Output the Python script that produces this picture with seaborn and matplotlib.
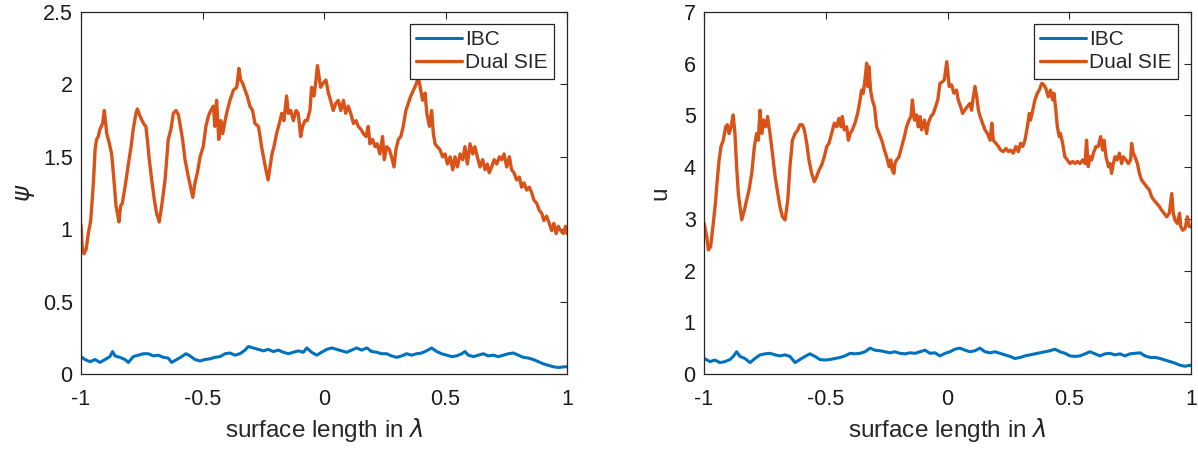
import numpy as np
import pandas as pd
import matplotlib
matplotlib.use("Agg")
import matplotlib.pyplot as plt
import seaborn as sns

# ---------------- data: left panel (psi) ----------------
psi_dual_x = [-1.000, -0.995, -0.988, -0.979, -0.970, -0.960, -0.949, -0.942, -0.936, -0.929, -0.922, -0.911,
              -0.904, -0.894, -0.883, -0.874, -0.867, -0.860, -0.856, -0.850, -0.844, -0.837, -0.830, -0.819,
              -0.805, -0.794, -0.785, -0.774, -0.768, -0.757, -0.743, -0.733, -0.727, -0.719, -0.709, -0.698,
              -0.689, -0.678, -0.668, -0.654, -0.641, -0.630, -0.620, -0.609, -0.599, -0.593, -0.582, -0.572,
              -0.558, -0.549, -0.540, -0.531, -0.521, -0.510, -0.497, -0.486, -0.476, -0.466, -0.455, -0.449,
              -0.442, -0.433, -0.425, -0.417, -0.407, -0.398, -0.387, -0.373, -0.359, -0.350, -0.343, -0.335,
              -0.325, -0.316, -0.305, -0.294, -0.284, -0.270, -0.263, -0.257, -0.247, -0.239, -0.230, -0.222,
              -0.214, -0.206, -0.195, -0.184, -0.174, -0.165, -0.154, -0.147, -0.137, -0.126, -0.115, -0.106,
              -0.096, -0.088, -0.078, -0.069, -0.058, -0.051, -0.041, -0.033, -0.027, -0.014, -0.003, 0.008,
              0.018, 0.027, 0.038, 0.049, 0.059, 0.069, 0.080, 0.089, 0.100, 0.110, 0.121, 0.132,
              0.141, 0.152, 0.162, 0.173, 0.182, 0.189, 0.200, 0.210, 0.219, 0.230, 0.241, 0.248,
              0.258, 0.269, 0.278, 0.288, 0.296, 0.306, 0.316, 0.326, 0.337, 0.347, 0.357, 0.368,
              0.379, 0.388, 0.398, 0.406, 0.416, 0.423, 0.434, 0.443, 0.450, 0.457, 0.466, 0.477,
              0.488, 0.498, 0.508, 0.519, 0.530, 0.539, 0.549, 0.560, 0.571, 0.580, 0.590, 0.601,
              0.612, 0.621, 0.631, 0.642, 0.653, 0.663, 0.672, 0.680, 0.690, 0.700, 0.711, 0.722,
              0.731, 0.741, 0.752, 0.763, 0.772, 0.782, 0.793, 0.804, 0.813, 0.823, 0.834, 0.845,
              0.855, 0.864, 0.875, 0.886, 0.896, 0.905, 0.916, 0.927, 0.937, 0.946, 0.955, 0.964,
              0.974, 0.985, 0.994, 1.000]
psi_dual_y = [1.03, 0.88, 0.83, 0.86, 0.97, 1.06, 1.32, 1.55, 1.62, 1.64, 1.69, 1.73,
              1.82, 1.66, 1.59, 1.52, 1.39, 1.25, 1.16, 1.11, 1.05, 1.16, 1.18, 1.29,
              1.45, 1.57, 1.69, 1.80, 1.83, 1.78, 1.73, 1.71, 1.62, 1.48, 1.34, 1.20,
              1.11, 1.05, 1.16, 1.34, 1.62, 1.69, 1.80, 1.82, 1.79, 1.73, 1.62, 1.48,
              1.36, 1.29, 1.22, 1.32, 1.39, 1.50, 1.57, 1.71, 1.78, 1.82, 1.85, 1.71,
              1.89, 1.62, 1.75, 1.66, 1.75, 1.82, 1.89, 1.96, 1.98, 2.11, 2.03, 2.01,
              1.96, 1.92, 1.85, 1.82, 1.73, 1.71, 1.64, 1.57, 1.48, 1.41, 1.34, 1.43,
              1.52, 1.57, 1.66, 1.73, 1.80, 1.75, 1.92, 1.80, 1.82, 1.75, 1.82, 1.80,
              1.64, 1.71, 1.75, 1.75, 1.82, 1.98, 1.92, 2.03, 2.13, 1.98, 2.01, 2.03,
              1.94, 1.89, 1.82, 1.87, 1.89, 1.82, 1.89, 1.80, 1.85, 1.80, 1.73, 1.75,
              1.71, 1.69, 1.66, 1.64, 1.71, 1.59, 1.62, 1.57, 1.59, 1.52, 1.64, 1.48,
              1.57, 1.55, 1.50, 1.43, 1.55, 1.62, 1.64, 1.71, 1.82, 1.87, 1.92, 1.96,
              2.00, 2.05, 1.96, 1.89, 1.94, 1.80, 1.71, 1.82, 1.66, 1.59, 1.57, 1.55,
              1.50, 1.52, 1.45, 1.50, 1.41, 1.50, 1.43, 1.52, 1.48, 1.57, 1.45, 1.59,
              1.52, 1.57, 1.50, 1.43, 1.48, 1.41, 1.45, 1.39, 1.43, 1.48, 1.45, 1.50,
              1.48, 1.52, 1.43, 1.50, 1.41, 1.39, 1.34, 1.36, 1.29, 1.32, 1.27, 1.29,
              1.25, 1.20, 1.18, 1.13, 1.11, 1.06, 1.09, 1.04, 0.99, 1.04, 0.97, 1.02,
              0.99, 0.97, 1.02, 0.97]

psi_ibc_x = [-1.000, -0.984, -0.963, -0.942, -0.922, -0.901, -0.881, -0.870, -0.860, -0.840, -0.819, -0.805,
             -0.785, -0.764, -0.743, -0.723, -0.702, -0.682, -0.661, -0.641, -0.627, -0.606, -0.586, -0.568,
             -0.551, -0.531, -0.510, -0.490, -0.469, -0.449, -0.428, -0.407, -0.387, -0.366, -0.346, -0.325,
             -0.311, -0.291, -0.270, -0.250, -0.229, -0.209, -0.188, -0.167, -0.147, -0.126, -0.106, -0.085,
             -0.071, -0.051, -0.030, -0.010, 0.011, 0.032, 0.052, 0.073, 0.093, 0.114, 0.134, 0.155,
             0.176, 0.196, 0.217, 0.237, 0.258, 0.278, 0.299, 0.320, 0.340, 0.361, 0.381, 0.402,
             0.422, 0.443, 0.464, 0.484, 0.505, 0.525, 0.546, 0.567, 0.580, 0.594, 0.615, 0.635,
             0.656, 0.676, 0.697, 0.717, 0.738, 0.759, 0.779, 0.800, 0.820, 0.841, 0.861, 0.882,
             0.903, 0.923, 0.944, 0.964, 0.992, 1.000]
psi_ibc_y = [0.12, 0.10, 0.085, 0.10, 0.08, 0.10, 0.12, 0.155, 0.125, 0.115, 0.10, 0.08,
             0.12, 0.13, 0.14, 0.14, 0.125, 0.13, 0.115, 0.11, 0.08, 0.10, 0.12, 0.14,
             0.125, 0.10, 0.09, 0.10, 0.105, 0.115, 0.12, 0.14, 0.145, 0.13, 0.14, 0.165,
             0.19, 0.18, 0.17, 0.16, 0.17, 0.155, 0.165, 0.15, 0.14, 0.15, 0.16, 0.15,
             0.18, 0.15, 0.13, 0.15, 0.17, 0.18, 0.17, 0.16, 0.15, 0.165, 0.18, 0.165,
             0.18, 0.155, 0.15, 0.14, 0.14, 0.125, 0.115, 0.125, 0.14, 0.13, 0.14, 0.145,
             0.16, 0.18, 0.155, 0.14, 0.13, 0.12, 0.125, 0.14, 0.155, 0.13, 0.12, 0.13,
             0.14, 0.125, 0.13, 0.12, 0.13, 0.14, 0.145, 0.13, 0.115, 0.11, 0.10, 0.085,
             0.07, 0.06, 0.05, 0.045, 0.05, 0.05]

# ---------------- data: right panel (u) ----------------
u_dual_x = [-0.999, -0.989, -0.982, -0.973, -0.962, -0.952, -0.948, -0.938, -0.930, -0.921, -0.911, -0.904,
            -0.897, -0.889, -0.880, -0.873, -0.866, -0.859, -0.852, -0.845, -0.834, -0.825, -0.815, -0.804,
            -0.793, -0.784, -0.777, -0.770, -0.763, -0.756, -0.747, -0.739, -0.729, -0.719, -0.708, -0.697,
            -0.688, -0.678, -0.667, -0.656, -0.647, -0.637, -0.626, -0.615, -0.606, -0.596, -0.588, -0.578,
            -0.569, -0.558, -0.547, -0.537, -0.528, -0.517, -0.506, -0.496, -0.487, -0.476, -0.465, -0.455,
            -0.446, -0.437, -0.432, -0.424, -0.414, -0.407, -0.400, -0.391, -0.380, -0.369, -0.359, -0.353,
            -0.346, -0.339, -0.332, -0.328, -0.322, -0.316, -0.309, -0.300, -0.291, -0.281, -0.270, -0.259,
            -0.250, -0.240, -0.233, -0.227, -0.220, -0.216, -0.209, -0.199, -0.188, -0.177, -0.168, -0.158,
            -0.150, -0.144, -0.136, -0.127, -0.120, -0.113, -0.106, -0.095, -0.086, -0.079, -0.068, -0.058,
            -0.049, -0.040, -0.031, -0.021, -0.013, -0.003, 0.007, 0.017, 0.026, 0.037, 0.044, 0.054,
            0.062, 0.071, 0.081, 0.092, 0.099, 0.106, 0.113, 0.120, 0.127, 0.134, 0.144, 0.154,
            0.164, 0.175, 0.182, 0.188, 0.199, 0.209, 0.218, 0.229, 0.240, 0.250, 0.259, 0.270,
            0.281, 0.291, 0.300, 0.309, 0.318, 0.328, 0.336, 0.341, 0.350, 0.359, 0.369, 0.377,
            0.387, 0.396, 0.404, 0.414, 0.423, 0.432, 0.437, 0.445, 0.451, 0.459, 0.464, 0.473,
            0.482, 0.492, 0.503, 0.514, 0.524, 0.533, 0.544, 0.555, 0.565, 0.571, 0.578, 0.585,
            0.592, 0.599, 0.610, 0.619, 0.629, 0.637, 0.643, 0.651, 0.661, 0.667, 0.674, 0.681,
            0.688, 0.697, 0.706, 0.715, 0.722, 0.733, 0.743, 0.752, 0.756, 0.763, 0.770, 0.780,
            0.788, 0.797, 0.807, 0.818, 0.829, 0.838, 0.848, 0.859, 0.870, 0.879, 0.889, 0.900,
            0.911, 0.921, 0.927, 0.934, 0.944, 0.953, 0.958, 0.966, 0.976, 0.985, 0.993, 0.998]
u_dual_y = [2.91, 2.66, 2.40, 2.46, 2.91, 3.36, 3.62, 4.14, 4.40, 4.52, 4.78, 4.82,
            4.65, 4.78, 5.01, 4.65, 4.01, 3.49, 3.24, 2.98, 3.17, 3.36, 3.56, 3.88,
            4.40, 4.65, 4.52, 5.10, 4.65, 4.91, 4.78, 4.98, 4.65, 4.27, 3.82, 3.49,
            3.24, 3.04, 2.98, 3.36, 4.01, 4.52, 4.65, 4.72, 4.82, 4.82, 4.72, 4.46,
            4.14, 3.88, 3.72, 3.82, 3.94, 4.04, 4.20, 4.40, 4.46, 4.65, 4.85, 4.78,
            4.94, 4.78, 4.98, 4.72, 4.78, 4.52, 4.65, 4.72, 4.85, 5.04, 5.30, 5.49,
            5.43, 5.69, 6.01, 5.56, 5.94, 5.49, 5.30, 5.17, 4.78, 4.65, 4.52, 4.33,
            4.20, 4.01, 4.14, 3.94, 3.88, 4.07, 4.14, 4.20, 4.40, 4.59, 4.78, 4.91,
            4.98, 5.30, 4.91, 5.01, 4.78, 4.98, 4.72, 4.91, 4.65, 4.85, 4.98, 5.04,
            5.17, 5.30, 5.62, 5.65, 5.69, 6.04, 5.56, 5.59, 5.43, 5.49, 5.30, 5.17,
            5.04, 5.10, 5.17, 5.23, 5.10, 5.36, 5.56, 5.36, 5.10, 4.98, 4.85, 4.72,
            4.65, 4.52, 4.85, 4.52, 4.46, 4.40, 4.33, 4.30, 4.36, 4.30, 4.33, 4.27,
            4.40, 4.30, 4.46, 4.40, 4.52, 4.78, 5.04, 4.91, 5.10, 5.30, 5.43, 5.49,
            5.62, 5.59, 5.52, 5.36, 5.49, 5.30, 5.43, 5.10, 4.78, 4.59, 4.65, 4.46,
            4.20, 4.14, 4.07, 4.11, 4.07, 4.11, 4.07, 4.14, 4.07, 4.52, 4.01, 4.20,
            4.14, 4.27, 4.40, 4.40, 4.59, 4.33, 4.52, 4.20, 4.01, 4.07, 3.88, 4.07,
            4.20, 4.14, 4.27, 4.07, 4.20, 4.14, 4.07, 4.14, 4.46, 4.27, 4.20, 4.07,
            3.88, 3.75, 3.69, 3.62, 3.56, 3.43, 3.36, 3.30, 3.24, 3.17, 3.11, 3.04,
            3.11, 3.49, 3.11, 2.98, 2.91, 3.11, 2.85, 2.78, 2.82, 3.04, 2.85, 2.85]

u_ibc_x = [-0.999, -0.975, -0.955, -0.934, -0.914, -0.893, -0.880, -0.866, -0.852, -0.832, -0.811, -0.791,
           -0.770, -0.749, -0.729, -0.708, -0.688, -0.667, -0.647, -0.626, -0.606, -0.585, -0.565, -0.544,
           -0.524, -0.503, -0.483, -0.462, -0.441, -0.421, -0.400, -0.380, -0.359, -0.339, -0.318, -0.298,
           -0.277, -0.257, -0.236, -0.216, -0.195, -0.175, -0.154, -0.133, -0.113, -0.092, -0.072, -0.051,
           -0.031, -0.010, 0.010, 0.031, 0.051, 0.072, 0.092, 0.113, 0.133, 0.154, 0.175, 0.195,
           0.216, 0.236, 0.257, 0.277, 0.298, 0.318, 0.339, 0.359, 0.380, 0.400, 0.421, 0.441,
           0.462, 0.483, 0.503, 0.524, 0.544, 0.565, 0.585, 0.606, 0.626, 0.647, 0.667, 0.688,
           0.708, 0.729, 0.749, 0.770, 0.791, 0.811, 0.832, 0.852, 0.873, 0.893, 0.914, 0.934,
           0.955, 0.975, 0.996, 1.000]
u_ibc_y = [0.30, 0.24, 0.27, 0.22, 0.24, 0.28, 0.34, 0.43, 0.34, 0.30, 0.22, 0.30,
           0.37, 0.39, 0.40, 0.37, 0.35, 0.37, 0.34, 0.22, 0.28, 0.34, 0.39, 0.34,
           0.28, 0.27, 0.28, 0.30, 0.32, 0.35, 0.40, 0.39, 0.40, 0.43, 0.50, 0.46,
           0.45, 0.43, 0.41, 0.43, 0.40, 0.39, 0.41, 0.40, 0.43, 0.46, 0.40, 0.41,
           0.35, 0.40, 0.43, 0.48, 0.50, 0.46, 0.43, 0.45, 0.50, 0.43, 0.41, 0.43,
           0.40, 0.37, 0.34, 0.30, 0.32, 0.35, 0.37, 0.39, 0.41, 0.43, 0.45, 0.48,
           0.43, 0.40, 0.35, 0.34, 0.35, 0.39, 0.43, 0.39, 0.35, 0.39, 0.40, 0.37,
           0.39, 0.35, 0.39, 0.40, 0.41, 0.35, 0.32, 0.32, 0.30, 0.27, 0.24, 0.21,
           0.17, 0.15, 0.17, 0.16]

series_labels = ["IBC", "Dual SIE"]
x_ticks = [-1, -0.5, 0, 0.5, 1]
x_ticklabels = ["-1", "-0.5", "0", "0.5", "1"]
psi_ticks = [0, 0.5, 1, 1.5, 2, 2.5]
psi_ticklabels = ["0", "0.5", "1", "1.5", "2", "2.5"]
u_ticks = [0, 1, 2, 3, 4, 5, 6, 7]
u_ticklabels = ["0", "1", "2", "3", "4", "5", "6", "7"]

# ---------------- styling ----------------
sns.set_style("white")
plt.rcParams["font.family"] = ["Liberation Sans", "DejaVu Sans"]
plt.rcParams["mathtext.fontset"] = "dejavusans"

BLUE = "#0072BD"
ORANGE = "#D95319"
AXCOL = "#262626"

fig = plt.figure(figsize=(11.98, 4.5), dpi=100)
ax1 = fig.add_axes([81 / 1198, 76 / 450, 486 / 1198, 362 / 450])
ax2 = fig.add_axes([704 / 1198, 76 / 450, 487 / 1198, 362 / 450])

panels = [
    (ax1, psi_ibc_x, psi_ibc_y, psi_dual_x, psi_dual_y, (0, 2.5), psi_ticks, psi_ticklabels, r"$\psi$", -0.090),
    (ax2, u_ibc_x, u_ibc_y, u_dual_x, u_dual_y, (0, 7), u_ticks, u_ticklabels, "u", -0.066),
]

for ax, ix, iy, dx, dy, ylim, yt, ytl, ylab, ylab_x in panels:
    sns.lineplot(x=ix, y=iy, ax=ax, color=BLUE, linewidth=2.2, label=series_labels[0], sort=False)
    sns.lineplot(x=dx, y=dy, ax=ax, color=ORANGE, linewidth=2.4, label=series_labels[1], sort=False)
    ax.set_xlim(-1, 1)
    ax.set_ylim(*ylim)
    ax.set_xticks(x_ticks)
    ax.set_xticklabels(x_ticklabels)
    ax.set_yticks(yt)
    ax.set_yticklabels(ytl)
    ax.tick_params(direction="in", length=5, width=0.8, colors=AXCOL, labelsize=15.5,
                   top=True, right=True, labelcolor="#1a1a1a")
    ax.tick_params(axis="x", pad=11)
    ax.tick_params(axis="y", pad=6)
    for s in ax.spines.values():
        s.set_visible(True)
        s.set_color(AXCOL)
        s.set_linewidth(0.9)
    ax.set_xlabel(r"surface length in $\lambda$", fontsize=17.5, color="#262626")
    ax.xaxis.set_label_coords(0.5, -0.116)
    ax.set_ylabel(ylab, fontsize=17.5, color="#262626")
    ax.yaxis.set_label_coords(ylab_x, 0.5)
    leg = ax.legend(loc="upper right", bbox_to_anchor=(0.973, 0.967), borderaxespad=0,
                    fontsize=15, frameon=True, fancybox=False, handlelength=2.2,
                    handletextpad=0.15, labelspacing=0.2, borderpad=0.3)
    leg.get_frame().set_edgecolor("#262626")
    leg.get_frame().set_linewidth(0.9)
    leg.get_frame().set_alpha(1.0)
    leg.set_zorder(10)

fig.savefig("out.png", dpi=100)
